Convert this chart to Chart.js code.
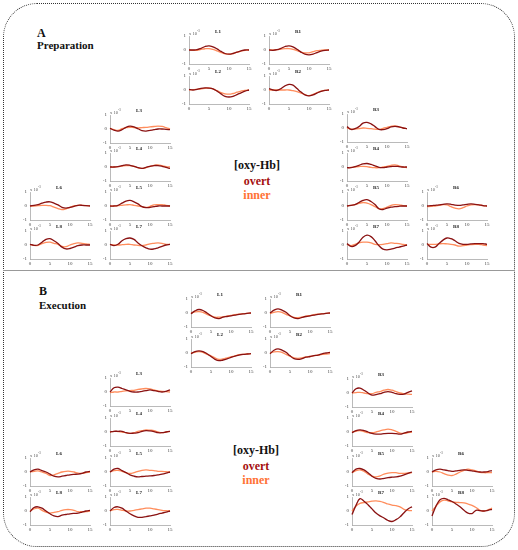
<!DOCTYPE html>
<html>
<head>
<meta charset="utf-8">
<script src="https://cdn.jsdelivr.net/npm/chart.js@4.4.1/dist/chart.umd.min.js"></script>
<style>
  body { margin: 0; background: #fff; width: 518px; height: 550px; overflow: hidden; position: relative; font-family: "Liberation Serif", serif; }
  #frame { position: absolute; left: 3px; top: 3px; width: 512px; height: 544px; box-sizing: border-box; border: 1.5px dotted #333; border-radius: 34px; }
  #sep { position: absolute; left: 3px; top: 270px; width: 512px; height: 0; border-top: 1.5px solid #999; }
  .txt { position: absolute; font-weight: bold; color: #111; white-space: nowrap; }
  .legend { position: absolute; width: 80px; text-align: center; font-weight: bold; font-size: 12px; line-height: 12px; white-space: nowrap; }
  canvas { position: absolute; }
</style>
</head>
<body>
<div id="frame"></div>
<div id="sep"></div>

<div class="txt" style="left:37px;top:26.5px;font-size:12px;line-height:12px;">A</div>
<div class="txt" style="left:37px;top:39.5px;font-size:11px;line-height:11px;">Preparation</div>
<div class="txt" style="left:39px;top:285px;font-size:12px;line-height:12px;">B</div>
<div class="txt" style="left:39px;top:300px;font-size:11px;line-height:11px;">Execution</div>

<div class="legend" style="left:217px;top:159px;color:#111;">[oxy-Hb]</div>
<div class="legend" style="left:217px;top:175px;color:#a50f0f;">overt</div>
<div class="legend" style="left:217px;top:189px;color:#ff7236;">inner</div>
<div class="legend" style="left:216px;top:444px;color:#111;">[oxy-Hb]</div>
<div class="legend" style="left:216px;top:460px;color:#a50f0f;">overt</div>
<div class="legend" style="left:216px;top:474px;color:#ff7236;">inner</div>

<script>
// --- DATA (x10^-3) ---
const seconds = [0, 1, 2, 3, 4, 5, 6, 7, 8, 9, 10, 11, 12, 13, 14, 15];
const xTickValues = [0, 5, 10, 15];
const yTickValues = [-1, 0, 1];
const channelNames = ["L1", "R1", "L2", "R2", "L3", "R3", "L4", "R4", "L5", "R5", "L6", "R6", "L7", "R7", "L8", "R8"];

// Panel A - Preparation
const prepL1Overt = [0, 0, 0.02, 0.12, 0.25, 0.3, 0.22, 0.08, -0.1, -0.25, -0.3, -0.25, -0.15, -0.06, 0, 0];
const prepL1Inner = [0.02, -0.03, -0.02, 0.04, 0.09, 0.1, 0.04, -0.06, -0.18, -0.27, -0.3, -0.25, -0.16, -0.08, -0.02, 0];
const prepR1Overt = [0, -0.02, 0.02, 0.12, 0.25, 0.3, 0.22, 0.05, -0.15, -0.3, -0.35, -0.3, -0.18, -0.08, -0.02, 0];
const prepR1Inner = [0, 0, 0.02, 0.06, 0.1, 0.1, 0.05, -0.05, -0.15, -0.2, -0.2, -0.12, -0.05, -0.02, 0, 0];
const prepL2Overt = [0.05, 0, 0.05, 0.12, 0.15, 0.14, 0.08, -0.08, -0.28, -0.45, -0.5, -0.45, -0.33, -0.2, -0.08, 0];
const prepL2Inner = [0, 0.02, 0.05, 0.08, 0.12, 0.14, 0.08, -0.05, -0.18, -0.27, -0.3, -0.25, -0.16, -0.08, -0.02, 0];
const prepR2Overt = [0.1, 0, -0.03, 0.1, 0.3, 0.4, 0.35, 0.1, -0.15, -0.35, -0.42, -0.35, -0.22, -0.1, -0.03, 0];
const prepR2Inner = [0, 0, 0, 0, 0, 0, -0.05, -0.12, -0.22, -0.33, -0.4, -0.32, -0.18, -0.08, -0.02, 0];
const prepL3Overt = [0.05, -0.08, -0.15, -0.05, 0.12, 0.2, 0.15, 0.02, -0.12, -0.15, -0.1, -0.05, 0, 0, -0.03, -0.05];
const prepL3Inner = [0.05, -0.05, -0.1, 0.02, 0.1, 0.12, 0.1, 0.08, 0.1, 0.12, 0.15, 0.18, 0.2, 0.18, 0.1, 0];
const prepR3Overt = [0.1, -0.1, -0.05, 0.1, 0.35, 0.4, 0.3, 0.1, -0.1, -0.12, -0.05, 0.08, 0.12, 0.08, 0, -0.05];
const prepR3Inner = [0, -0.08, -0.08, -0.05, 0, -0.02, -0.05, -0.08, -0.1, -0.02, 0.05, 0.12, 0.15, 0.08, 0, -0.05];
const prepL4Overt = [0, 0, 0.03, 0.1, 0.15, 0.12, 0.05, -0.05, -0.1, -0.02, 0.05, 0.1, 0.1, 0.05, -0.03, -0.1];
const prepL4Inner = [0, 0, 0.02, 0.06, 0.1, 0.1, 0.05, -0.05, -0.1, -0.05, 0.05, 0.12, 0.15, 0.1, 0.03, 0];
const prepR4Overt = [-0.05, -0.05, 0.02, 0.12, 0.22, 0.25, 0.18, 0.08, -0.02, -0.05, 0, 0.03, 0.05, 0.03, 0, 0];
const prepR4Inner = [-0.05, -0.03, 0, 0.03, 0.05, 0.03, -0.03, -0.05, -0.05, 0, 0.05, 0.12, 0.15, 0.08, 0, -0.05];
const prepL5Overt = [0, 0, 0.05, 0.2, 0.35, 0.4, 0.3, 0.15, -0.05, -0.12, -0.1, -0.05, 0, 0, 0, 0];
const prepL5Inner = [0, 0, 0.02, 0.05, 0.08, 0.1, 0.05, 0, -0.05, -0.1, -0.02, 0.08, 0.1, 0.1, 0.05, 0];
const prepR5Overt = [0, 0.05, 0.1, 0.25, 0.4, 0.45, 0.32, 0.1, -0.2, -0.25, -0.15, -0.08, -0.05, -0.02, 0, 0];
const prepR5Inner = [0, 0.05, 0.1, 0.18, 0.25, 0.2, 0.1, -0.05, -0.2, -0.18, -0.08, 0.05, 0.1, 0.08, 0.03, 0];
const prepL6Overt = [0, 0.05, 0.1, 0.2, 0.28, 0.3, 0.2, 0.08, -0.1, -0.15, -0.1, -0.02, 0.05, 0.05, 0.02, 0];
const prepL6Inner = [0, 0, 0.02, 0.04, 0.05, 0.02, -0.08, -0.18, -0.25, -0.2, -0.1, 0, 0.05, 0.05, 0.03, 0.02];
const prepR6Overt = [0, 0.02, 0.05, 0.08, 0.12, 0.15, 0.12, 0.06, 0.05, 0.08, 0.12, 0.15, 0.12, 0.08, 0.03, 0];
const prepR6Inner = [-0.05, -0.02, 0, 0.05, 0.1, 0.08, -0.05, -0.15, -0.2, -0.12, 0, 0.08, 0.1, 0.08, 0.03, 0];
const prepL7Overt = [0.05, -0.05, 0.05, 0.3, 0.45, 0.5, 0.4, 0.15, -0.05, -0.2, -0.3, -0.28, -0.2, -0.1, 0, 0.05];
const prepL7Inner = [0.05, 0, 0, 0.02, 0.05, 0.05, 0, -0.02, -0.05, 0, 0.08, 0.12, 0.15, 0.12, 0.05, 0.05];
const prepR7Overt = [0.1, -0.1, -0.05, 0.2, 0.55, 0.7, 0.6, 0.3, -0.05, -0.3, -0.35, -0.3, -0.22, -0.15, -0.08, 0];
const prepR7Inner = [0.05, -0.05, 0.05, 0.15, 0.2, 0.2, 0.15, 0.05, 0.03, 0.05, 0.1, 0.15, 0.12, 0.1, 0.05, 0];
const prepL8Overt = [0.05, -0.02, 0, 0.2, 0.4, 0.45, 0.3, 0.1, -0.15, -0.28, -0.25, -0.15, -0.05, 0, 0, 0];
const prepL8Inner = [0.05, -0.03, -0.02, 0.1, 0.18, 0.2, 0.12, 0.05, -0.1, -0.12, 0, 0.1, 0.15, 0.12, 0.08, 0.05];
const prepR8Overt = [0.1, -0.15, -0.15, 0.1, 0.35, 0.5, 0.45, 0.3, 0.12, 0.05, 0.05, 0.08, 0.1, 0.1, 0.1, 0.05];
const prepR8Inner = [0.05, 0.05, 0.05, 0.08, 0.1, 0.08, 0.05, 0, -0.08, -0.05, 0, 0.03, 0.05, 0.05, 0, -0.05];

// Panel B - Execution
const execL1Overt = [-0.05, 0.15, 0.25, 0.18, 0, -0.2, -0.35, -0.4, -0.3, -0.25, -0.2, -0.15, -0.1, -0.06, -0.03, 0];
const execL1Inner = [0, 0.08, 0.1, 0.05, -0.1, -0.2, -0.3, -0.3, -0.28, -0.22, -0.17, -0.12, -0.08, -0.05, -0.02, 0];
const execR1Overt = [0, 0.2, 0.3, 0.2, 0.05, -0.2, -0.35, -0.4, -0.32, -0.25, -0.2, -0.15, -0.1, -0.06, -0.03, 0];
const execR1Inner = [-0.05, 0.05, 0.1, 0.05, -0.1, -0.2, -0.32, -0.33, -0.3, -0.22, -0.18, -0.12, -0.08, -0.05, -0.02, 0];
const execL2Overt = [-0.05, 0.1, 0.15, 0.1, -0.05, -0.25, -0.45, -0.55, -0.5, -0.42, -0.32, -0.22, -0.15, -0.1, -0.07, -0.05];
const execL2Inner = [0, 0.05, 0.1, 0.05, -0.1, -0.2, -0.35, -0.45, -0.42, -0.35, -0.27, -0.2, -0.12, -0.1, -0.07, -0.05];
const execR2Overt = [-0.05, 0.2, 0.3, 0.2, 0.05, -0.2, -0.4, -0.45, -0.4, -0.3, -0.25, -0.18, -0.15, -0.06, 0, 0.05];
const execR2Inner = [0, 0.08, 0.1, 0.05, -0.1, -0.22, -0.35, -0.38, -0.35, -0.28, -0.25, -0.18, -0.15, -0.1, -0.07, -0.05];
const execL3Overt = [0, 0.3, 0.35, 0.25, 0.15, 0.05, 0, 0, 0.05, 0.1, 0.15, 0.1, 0.05, 0, 0.05, 0.15];
const execL3Inner = [-0.05, 0, 0, 0.05, 0.08, 0.1, 0.12, 0.18, 0.22, 0.25, 0.22, 0.15, 0.08, 0.05, 0.02, 0];
const execR3Overt = [0, 0.3, 0.35, 0.2, 0, -0.15, -0.12, -0.05, 0.05, 0.1, 0.05, -0.05, -0.1, -0.08, 0.05, 0.15];
const execR3Inner = [0, 0.03, 0.05, 0, -0.05, -0.05, 0.05, 0.1, 0.2, 0.25, 0.2, 0.1, 0, -0.05, -0.08, -0.1];
const execL4Overt = [0, 0.05, 0.05, 0.05, -0.05, -0.1, -0.08, -0.05, 0.05, 0.1, 0.08, 0.03, -0.05, -0.05, 0, 0.05];
const execL4Inner = [0, 0.05, 0.03, 0, -0.05, -0.1, -0.05, 0.05, 0.1, 0.15, 0.13, 0.1, 0, -0.05, 0, 0.05];
const execR4Overt = [-0.05, 0.1, 0.15, 0.1, 0, -0.1, -0.15, -0.15, -0.12, -0.1, -0.1, -0.12, -0.15, -0.08, 0, 0.05];
const execR4Inner = [0, 0.05, 0.1, 0.03, -0.05, -0.05, 0, 0.08, 0.15, 0.2, 0.15, 0.05, -0.08, -0.1, -0.05, 0];
const execL5Overt = [0, 0.2, 0.25, 0.1, -0.05, -0.2, -0.3, -0.35, -0.32, -0.3, -0.28, -0.25, -0.2, -0.15, -0.08, 0];
const execL5Inner = [0, 0.1, 0.12, 0.05, -0.05, -0.1, -0.05, 0.05, 0.12, 0.15, 0.12, 0.1, 0.05, 0.05, 0.02, 0];
const execR5Overt = [-0.05, 0.2, 0.25, 0.15, -0.05, -0.3, -0.45, -0.5, -0.45, -0.4, -0.37, -0.35, -0.3, -0.2, -0.1, 0];
const execR5Inner = [-0.05, 0.1, 0.15, 0.05, -0.15, -0.3, -0.35, -0.28, -0.15, -0.08, -0.05, -0.05, -0.1, -0.1, -0.07, -0.05];
const execL6Overt = [0, 0.15, 0.2, 0.1, 0, -0.15, -0.3, -0.35, -0.3, -0.25, -0.2, -0.17, -0.15, -0.1, 0, 0.05];
const execL6Inner = [0, 0.05, 0.08, 0, -0.1, -0.25, -0.2, -0.1, 0, 0.05, 0.05, 0, -0.08, -0.1, -0.05, 0];
const execR6Overt = [0, 0.15, 0.2, 0.15, 0.1, 0.05, 0.08, 0.12, 0.15, 0.12, 0.08, 0.03, 0, 0, 0.03, 0.1];
const execR6Inner = [0, 0.05, 0, -0.12, -0.22, -0.25, -0.15, 0, 0.12, 0.2, 0.15, 0.08, -0.02, -0.05, -0.05, -0.05];
const execL7Overt = [0, 0.25, 0.3, 0.2, 0, -0.2, -0.35, -0.45, -0.45, -0.4, -0.35, -0.3, -0.22, -0.15, -0.08, 0];
const execL7Inner = [0, 0.1, 0.12, 0.05, 0, 0, 0.05, 0.1, 0.15, 0.2, 0.2, 0.15, 0.1, 0.05, 0.02, 0];
const execR7Overt = [-0.25, 0.4, 0.88, 0.7, 0.45, 0.15, -0.15, -0.35, -0.5, -0.68, -0.75, -0.62, -0.42, -0.12, 0.15, 0.3];
const execR7Inner = [0, 0.35, 0.55, 0.6, 0.65, 0.7, 0.72, 0.68, 0.6, 0.5, 0.42, 0.38, 0.3, 0.12, 0.05, 0.02];
const execL8Overt = [-0.05, 0.25, 0.3, 0.2, 0, -0.2, -0.35, -0.4, -0.3, -0.25, -0.2, -0.17, -0.15, -0.08, 0, 0.05];
const execL8Inner = [0, 0.15, 0.2, 0.05, -0.08, -0.15, -0.1, -0.05, 0.05, 0.1, 0.1, 0.05, -0.05, -0.05, -0.05, 0];
const execR8Overt = [-0.35, 0.35, 0.8, 0.9, 0.8, 0.68, 0.5, 0.3, 0.05, -0.15, -0.18, 0.05, 0.03, 0, 0.05, 0.12];
const execR8Inner = [0, 0.35, 0.65, 0.78, 0.72, 0.65, 0.62, 0.6, 0.58, 0.5, 0.4, 0.25, 0.05, 0, 0.08, 0.2];
// -------------------------------------------------------

// --- series per channel, same order as channelNames ---
const prepOvert = [prepL1Overt, prepR1Overt, prepL2Overt, prepR2Overt, prepL3Overt, prepR3Overt, prepL4Overt, prepR4Overt,
  prepL5Overt, prepR5Overt, prepL6Overt, prepR6Overt, prepL7Overt, prepR7Overt, prepL8Overt, prepR8Overt];
const prepInner = [prepL1Inner, prepR1Inner, prepL2Inner, prepR2Inner, prepL3Inner, prepR3Inner, prepL4Inner, prepR4Inner,
  prepL5Inner, prepR5Inner, prepL6Inner, prepR6Inner, prepL7Inner, prepR7Inner, prepL8Inner, prepR8Inner];
const execOvert = [execL1Overt, execR1Overt, execL2Overt, execR2Overt, execL3Overt, execR3Overt, execL4Overt, execR4Overt,
  execL5Overt, execR5Overt, execL6Overt, execR6Overt, execL7Overt, execR7Overt, execL8Overt, execR8Overt];
const execInner = [execL1Inner, execR1Inner, execL2Inner, execR2Inner, execL3Inner, execR3Inner, execL4Inner, execR4Inner,
  execL5Inner, execR5Inner, execL6Inner, execR6Inner, execL7Inner, execR7Inner, execL8Inner, execR8Inner];

// --- where each little plot area sits on the page (left of x=0, top of y=1) ---
const prepPos = [[189, 36], [269, 36], [189, 76], [269, 76], [110, 115], [347, 114], [110, 153], [347, 153],
  [110, 192], [347, 192], [30, 192], [427, 192], [110, 231], [347, 231], [30, 231], [427, 231]];
const execPos = [[191, 299], [270, 299], [191, 339], [270, 339], [110, 378], [352, 379], [110, 418], [352, 418],
  [110, 458], [352, 458], [30, 458], [432, 458], [110, 497], [352, 497], [30, 497], [432, 497]];

const PLOT_W = 60, PLOT_H = 28;
const PAD_LEFT = 14, PAD_TOP = 8, PAD_RIGHT = 6, PAD_BOTTOM = 9;
const OVERT_COLOR = "#8a1212";
const INNER_COLOR = "#ff8d5c";
const FONT = "'Liberation Serif', serif";

// --- PLUGIN: channel name and x10^-3 above each plot ---
const channelText = {
  id: "channelText",
  afterDraw(chart, args, options) {
    const { ctx, chartArea: { left, right, top } } = chart;
    ctx.save();
    ctx.fillStyle = "#222";
    ctx.font = "bold 5px " + FONT;
    ctx.textAlign = "center";
    ctx.fillText(options.name, (left + right) / 2 - 1, top - 3);
    ctx.fillStyle = "#555";
    ctx.textAlign = "left";
    ctx.font = "4.5px " + FONT;
    ctx.fillText("x 10", left, top - 1.5);
    const w = ctx.measureText("x 10").width;
    ctx.font = "3.2px " + FONT;
    ctx.fillText("-3", left + w + 0.3, top - 4);
    ctx.restore();
  },
};

function makePlot(name, pos, overt, inner) {
  const canvas = document.createElement("canvas");
  const cw = PLOT_W + PAD_LEFT + PAD_RIGHT;
  const ch = PLOT_H + PAD_TOP + PAD_BOTTOM;
  canvas.width = cw;
  canvas.height = ch;
  canvas.style.width = cw + "px";
  canvas.style.height = ch + "px";
  canvas.style.left = (pos[0] - PAD_LEFT) + "px";
  canvas.style.top = (pos[1] - PAD_TOP) + "px";
  document.body.appendChild(canvas);

  const toPoints = (vals) => seconds.map((s, i) => ({ x: s, y: vals[i] }));

  return new Chart(canvas, {
    type: "line",
    data: {
      datasets: [
        { label: "overt", data: toPoints(overt), borderColor: OVERT_COLOR, borderWidth: 1.3, pointRadius: 0, tension: 0.4, fill: false },
        { label: "inner", data: toPoints(inner), borderColor: INNER_COLOR, borderWidth: 1.3, pointRadius: 0, tension: 0.4, fill: false },
      ],
    },
    options: {
      responsive: false,
      animation: false,
      events: [],
      clip: false,
      layout: { padding: { top: PAD_TOP, right: PAD_RIGHT, left: 0, bottom: 0 } },
      plugins: {
        legend: { display: false },
        tooltip: { enabled: false },
        channelText: { name: name },
      },
      scales: {
        x: {
          type: "linear",
          min: xTickValues[0],
          max: xTickValues[xTickValues.length - 1],
          afterBuildTicks: (s) => { s.ticks = xTickValues.map((v) => ({ value: v })); },
          afterFit: (s) => { s.height = PAD_BOTTOM; },
          grid: { display: false, drawTicks: false },
          border: { display: true, color: "#a8a8a8", width: 0.8 },
          ticks: { color: "#444", padding: 2, maxRotation: 0, font: { size: 5, family: FONT } },
        },
        y: {
          min: yTickValues[0],
          max: yTickValues[yTickValues.length - 1],
          afterBuildTicks: (s) => { s.ticks = yTickValues.map((v) => ({ value: v })); },
          afterFit: (s) => { s.width = PAD_LEFT; },
          grid: { display: false, drawTicks: false },
          border: { display: true, color: "#a8a8a8", width: 0.8 },
          ticks: { color: "#444", padding: 3, font: { size: 5, family: FONT } },
        },
      },
    },
    plugins: [channelText],
  });
}

channelNames.forEach((name, i) => {
  makePlot(name, prepPos[i], prepOvert[i], prepInner[i]);
  makePlot(name, execPos[i], execOvert[i], execInner[i]);
});
</script>
</body>
</html>
